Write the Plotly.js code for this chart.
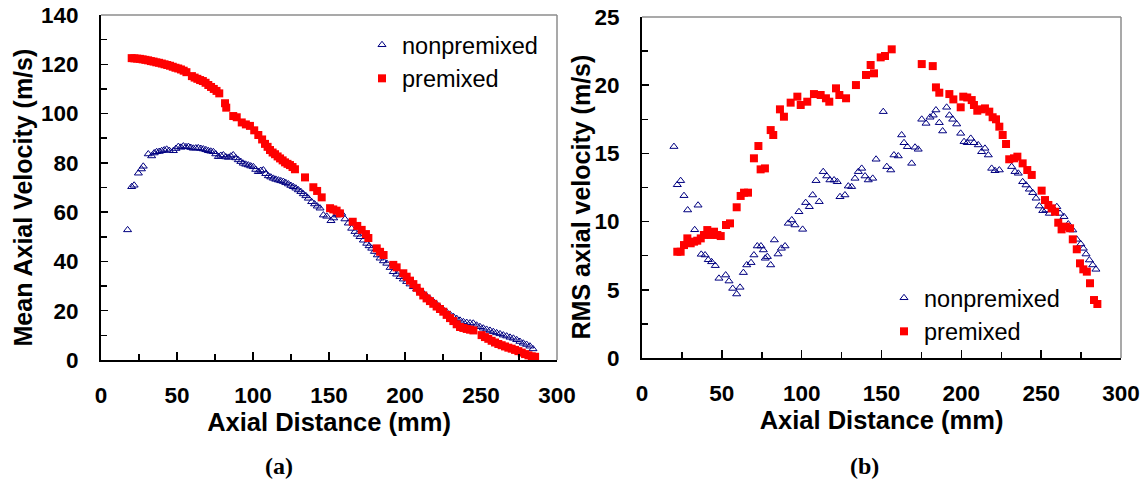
<!DOCTYPE html>
<html>
<head>
<meta charset="utf-8">
<script src="https://cdn.plot.ly/plotly-3.0.1.min.js"></script>
<style>html,body{margin:0;padding:0;background:#fff;}#chart{width:1148px;height:482px;}</style>
</head>
<body>
<div id="chart"></div>
<script>
// ---- Panel (a): mean axial velocity ----
const meanNonX = [17.5,20.2,21.8,24.6,26.6,27.8,31.1,33.3,35.0,36.6,38.3,39.9,41.6,43.2,44.9,47.6,49.3,50.9,52.6,54.2,55.9,57.5,59.1,60.7,62.4,64.0,65.7,67.3,69.0,70.6,72.2,73.9,75.5,77.2,78.8,80.5,82.1,83.8,85.4,87.0,88.7,90.3,92.0,93.6,95.2,96.9,98.5,100.2,101.8,103.5,105.1,106.8,108.4,110.1,111.7,113.4,115.0,116.7,118.3,120.0,121.6,123.3,124.9,126.5,128.2,129.8,131.5,133.1,134.8,136.4,138.6,140.5,142.3,144.1,146.3,148.5,151.3,153.1,155.0,156.6,158.3,160.5,162.7,164.9,167.1,168.7,170.4,172.6,174.8,176.4,178.1,179.9,181.8,183.6,185.8,188.0,190.2,192.3,194.5,196.7,198.9,201.1,203.3,205.5,207.7,209.9,212.0,214.2,216.4,218.6,220.8,223.0,225.2,227.4,229.6,231.8,234.0,236.2,238.4,240.6,242.8,244.9,247.1,249.3,251.5,253.7,255.9,258.1,260.3,262.5,264.7,266.9,269.1,271.3,273.5,275.6,277.8,280.0,282.2,284.2];
const meanNonY = [52.8,70.3,70.9,75.8,77.5,78.6,83.6,82.8,84.0,84.5,84.6,84.9,85.2,85.5,85.0,84.9,85.8,86.6,86.3,86.8,86.5,86.6,86.2,85.9,86.0,86.1,85.8,85.6,85.3,84.9,84.7,84.5,83.6,82.5,83.0,83.2,82.4,82.2,82.7,83.2,82.0,81.2,80.5,79.8,79.4,79.1,78.7,78.4,77.3,76.4,76.9,77.1,75.6,74.7,74.2,73.7,73.3,73.0,72.7,72.4,71.9,71.4,70.8,70.3,69.7,69.0,68.3,67.4,66.6,65.6,64.2,63.3,62.4,61.6,58.8,58.3,56.5,57.6,58.8,59.2,59.5,57.2,55.5,53.4,52.1,51.0,50.0,48.6,47.3,46.3,45.3,44.0,42.6,41.3,40.2,39.2,37.5,35.8,34.8,33.8,32.8,31.8,30.8,29.7,28.8,27.9,27.1,25.9,24.8,23.7,22.6,21.4,20.3,19.4,18.5,17.6,16.8,16.1,15.5,15.2,15.0,14.9,14.1,13.5,12.9,12.4,12.0,11.5,11.0,10.6,10.1,9.7,9.2,8.8,8.2,7.5,6.8,6.3,5.6,4.5];
const meanPreX = [20.2,22.0,23.8,25.6,27.4,29.2,31.0,32.8,34.6,36.4,38.2,40.0,41.8,43.6,45.4,47.2,49.0,50.8,52.6,54.4,56.2,59.8,61.6,63.4,65.2,67.0,68.8,70.6,72.4,74.2,76.0,77.8,81.6,82.4,87.0,89.3,92.6,95.3,98.0,100.8,103.5,106.0,107.9,109.6,111.2,112.9,114.5,116.2,117.8,119.5,121.1,122.7,124.3,126.0,127.6,134.2,139.7,142.2,145.2,150.7,152.8,155.0,157.2,165.6,168.6,171.5,174.3,175.9,181.4,183.6,185.9,192.3,194.5,198.9,201.1,203.3,205.5,207.7,209.9,212.0,214.2,216.4,218.6,220.8,223.0,225.2,227.4,229.6,231.8,234.0,236.2,238.4,240.6,242.8,245.0,250.4,252.6,254.8,257.0,259.2,261.4,263.6,265.8,268.0,270.2,272.4,274.6,276.8,279.0,281.2,283.4,285.6];
const meanPreY = [122.5,122.4,122.3,122.2,122.0,121.8,121.6,121.3,121.1,120.8,120.6,120.3,120.0,119.7,119.4,119.0,118.6,118.3,117.9,117.4,116.8,115.2,114.6,114.1,113.6,113.2,112.5,111.6,110.8,110.0,109.2,108.2,104.2,102.4,99.0,98.5,96.4,95.6,95.0,93.2,91.3,89.5,87.7,86.5,85.2,84.2,83.5,82.6,81.8,81.0,80.2,79.6,79.1,78.3,77.4,74.1,70.1,68.6,66.0,61.6,61.1,60.6,59.5,56.1,54.4,52.8,51.1,49.5,45.3,43.9,42.6,38.6,37.6,35.2,33.8,32.2,30.8,29.3,27.7,26.2,25.0,23.9,22.8,21.7,20.7,19.6,18.3,17.0,15.8,14.5,13.4,13.0,12.6,12.3,12.0,10.1,9.3,8.6,7.8,7.1,6.5,6.0,5.5,5.0,4.6,4.1,3.6,3.0,2.4,1.9,1.5,1.3];

// ---- Panel (b): RMS axial velocity ----
const rmsNonX = [20.0,22.1,24.2,26.3,28.6,33.0,35.1,37.1,39.5,41.5,43.6,45.9,48.2,52.4,54.5,56.8,59.3,61.4,63.5,65.6,68.3,70.1,72.2,74.5,76.0,77.2,78.5,80.6,82.9,85.2,87.3,89.6,91.6,93.8,95.8,98.3,100.6,102.5,104.8,106.9,109.0,111.0,113.5,115.7,117.7,120.3,122.3,124.0,127.1,129.2,131.3,133.4,135.5,137.6,139.7,141.7,144.5,146.6,151.1,153.3,155.8,157.8,160.5,162.6,164.1,166.2,168.9,171.0,173.0,175.2,177.9,180.4,182.4,184.1,186.2,188.3,190.8,192.5,194.6,197.1,199.6,201.7,203.7,205.9,207.9,210.6,212.7,214.8,216.9,219.0,221.1,223.8,231.5,233.6,235.7,238.4,240.5,242.6,244.7,246.8,248.8,251.0,253.0,255.1,257.6,259.8,261.8,264.3,267.0,269.8,272.3,274.8,276.4,278.1,280.2,282.3,284.3];
const rmsNonY = [15.5,12.7,13.0,11.9,10.85,9.4,11.2,7.6,7.55,7.2,7.05,6.77,5.84,6.08,5.64,5.1,4.69,5.18,6.26,6.82,6.99,7.55,8.21,8.21,7.92,7.31,7.43,6.82,8.65,7.62,8.04,8.21,9.87,10.12,9.75,10.72,9.43,11.39,11.09,11.95,13.0,11.46,13.66,13.34,13.05,13.05,12.92,11.82,11.95,12.6,12.56,13.17,13.66,13.9,13.34,13.05,13.17,14.57,18.06,14.03,13.78,14.88,14.81,16.35,15.78,15.49,14.27,15.45,15.3,17.5,17.2,17.65,17.8,18.18,17.25,16.64,18.38,17.8,17.5,17.15,16.47,15.86,15.78,16.1,15.78,15.62,15.12,15.37,14.88,13.9,13.73,13.78,14.03,13.66,13.54,12.92,12.68,12.37,12.12,11.71,11.14,10.8,10.85,10.6,10.97,11.09,10.6,10.36,9.82,9.38,8.7,8.36,8.04,7.62,7.18,6.82,6.5];
const rmsPreX = [22.1,24.2,26.3,28.4,30.5,32.6,34.6,36.8,38.8,40.9,43.0,45.1,47.2,49.3,52.6,55.1,59.3,61.8,63.9,66.4,70.1,72.9,74.3,77.0,80.6,82.2,86.4,88.9,93.1,97.3,99.4,103.5,107.7,111.9,115.2,117.3,121.5,123.6,127.8,134.0,140.3,143.2,145.3,149.5,152.2,156.4,175.2,182.1,184.1,186.2,192.5,195.0,199.6,201.2,203.7,206.5,207.9,210.0,212.7,214.8,217.5,219.6,221.7,223.8,225.9,228.0,230.0,233.0,235.1,238.4,241.3,244.1,250.3,252.4,254.5,256.6,258.7,260.7,262.8,265.5,268.1,269.8,272.3,274.3,276.4,278.6,280.6,283.1,285.2];
const rmsPreY = [7.79,7.79,8.28,8.77,8.41,8.53,8.6,8.77,9.02,9.38,9.02,9.26,9.02,8.94,9.75,9.87,11.05,11.88,12.12,12.12,14.64,15.54,13.83,13.9,16.71,16.35,18.23,17.69,18.72,19.16,18.55,18.79,19.35,19.28,19.04,18.79,19.77,19.28,19.04,20.01,20.75,21.48,20.87,22.04,22.14,22.63,21.55,21.4,19.84,19.45,19.35,18.96,18.38,19.16,19.1,18.91,18.55,18.13,18.23,18.3,18.06,17.65,17.5,16.96,16.35,15.69,14.57,14.64,14.76,14.27,13.78,13.42,12.27,11.58,11.22,10.97,10.72,9.92,9.43,9.63,9.51,8.7,7.97,6.94,6.5,6.33,5.48,4.25,3.96];

const seriesNames = ['nonpremixed', 'premixed'];
const xTitle = 'Axial Distance (mm)';
const yTitleA = 'Mean Axial Velocity (m/s)';
const yTitleB = 'RMS axial velocity (m/s)';
const captions = ['(a)', '(b)'];

const SANS = 'Arial, "Liberation Sans", sans-serif';
const SERIF = '"Times New Roman", "Liberation Serif", serif';
const W = 1148, H = 482;
const navy = '#000080', red = '#ff0000';

const triM = {symbol: 'triangle-up-open', size: 7, color: navy, line: {color: navy, width: 1}};
const sqM = {symbol: 'square', size: 8, color: red, line: {width: 0}};

const traces = [
  {x: meanNonX, y: meanNonY, name: seriesNames[0], type: 'scatter', mode: 'markers', marker: triM, xaxis: 'x', yaxis: 'y', legend: 'legend', cliponaxis: false},
  {x: meanPreX, y: meanPreY, name: seriesNames[1], type: 'scatter', mode: 'markers', marker: sqM, xaxis: 'x', yaxis: 'y', legend: 'legend', cliponaxis: false},
  {x: rmsNonX, y: rmsNonY, name: seriesNames[0], type: 'scatter', mode: 'markers', marker: triM, xaxis: 'x2', yaxis: 'y2', legend: 'legend2', cliponaxis: false},
  {x: rmsPreX, y: rmsPreY, name: seriesNames[1], type: 'scatter', mode: 'markers', marker: sqM, xaxis: 'x2', yaxis: 'y2', legend: 'legend2', cliponaxis: false},
  // empty traces so the label-only overlay axes exist
  {x: [], y: [], type: 'scatter', mode: 'markers', xaxis: 'x', yaxis: 'y3', showlegend: false, hoverinfo: 'skip'},
  {x: [], y: [], type: 'scatter', mode: 'markers', xaxis: 'x2', yaxis: 'y4', showlegend: false, hoverinfo: 'skip'}
];

const tickFont = {family: SANS, size: 22.5, color: '#000', weight: 'bold'};
function xAx(domain, anchor) {
  return {domain: domain, anchor: anchor, range: [0, 300], tick0: 0, dtick: 50,
    ticks: 'inside', ticklen: 8, tickwidth: 1.5, tickcolor: '#000',
    minor: {dtick: 25, ticks: 'inside', ticklen: 6, tickwidth: 1.5, tickcolor: '#000', showgrid: false},
    showline: true, linecolor: '#000', linewidth: 2, showgrid: false, zeroline: false,
    tickfont: tickFont, ticklabelstandoff: 14,
    title: {text: xTitle, font: {family: SANS, size: 25.5, color: '#000', weight: 'bold'}, standoff: 1}};
}
function yAx(domain, anchor, max, dt, mdt) {
  return {domain: domain, anchor: anchor, range: [0, max], tick0: 0, dtick: dt,
    ticks: 'inside', ticklen: 7, tickwidth: 1.5, tickcolor: '#000',
    minor: {dtick: mdt, ticks: 'inside', ticklen: 6, tickwidth: 1.5, tickcolor: '#000', showgrid: false},
    showline: true, linecolor: '#000', linewidth: 2, showgrid: false, zeroline: false,
    showticklabels: false};
}
function yLabelAx(over, anchor, max, dt) {
  return {overlaying: over, anchor: anchor, side: 'left', range: [0, max], tick0: 0, dtick: dt,
    ticks: 'outside', ticklen: 17, tickcolor: 'rgba(0,0,0,0)', showline: false, showgrid: false, zeroline: false,
    tickfont: tickFont};
}

function border(xr, yr) {
  const dx = xr + ' domain', dy = yr + ' domain';
  return [
    {type: 'line', xref: dx, yref: dy, x0: 0, x1: 1, y0: 1, y1: 1, line: {color: '#8c8c8c', width: 1.5}, layer: 'below'},
    {type: 'line', xref: dx, yref: dy, x0: 1, x1: 1, y0: 0, y1: 1, line: {color: '#8c8c8c', width: 1.5}, layer: 'below'}
  ];
}

const legendFont = {family: SANS, size: 23.5, color: '#000'};
const yTitleFont = {family: SANS, size: 25, color: '#000', weight: 'bold'};
const capFont = {family: SERIF, size: 24, color: '#000', weight: 'bold'};
const layout = {
  width: W, height: H,
  margin: {l: 0, r: 0, t: 0, b: 0},
  paper_bgcolor: '#fff', plot_bgcolor: '#fff',
  showlegend: true,
  xaxis: xAx([101 / W, 557 / W], 'y'),
  yaxis: yAx([122 / H, 467 / H], 'x', 140, 20, 10),
  yaxis3: yLabelAx('y', 'x', 140, 20),
  xaxis2: xAx([642 / W, 1121 / W], 'y2'),
  yaxis2: yAx([124 / H, 465 / H], 'x2', 25, 5, 2.5),
  yaxis4: yLabelAx('y2', 'x2', 25, 5),
  legend: {x: 362 / W, y: 1 - 23 / H, xanchor: 'left', yanchor: 'top', bgcolor: 'rgba(0,0,0,0)', font: legendFont, tracegroupgap: 0, borderwidth: 0},
  legend2: {x: 884 / W, y: 1 - 276 / H, xanchor: 'left', yanchor: 'top', bgcolor: 'rgba(0,0,0,0)', font: legendFont, tracegroupgap: 0, borderwidth: 0},
  shapes: border('x', 'y').concat(border('x2', 'y2')),
  annotations: [
    {text: yTitleA, xref: 'paper', yref: 'paper', x: 22 / W, y: 1 - 197.5 / H, textangle: -90, showarrow: false, xanchor: 'center', yanchor: 'middle', font: yTitleFont},
    {text: yTitleB, xref: 'paper', yref: 'paper', x: 580 / W, y: 1 - 197.5 / H, textangle: -90, showarrow: false, xanchor: 'center', yanchor: 'middle', font: yTitleFont},
    {text: captions[0], xref: 'paper', yref: 'paper', x: 279 / W, y: 1 - 466 / H, showarrow: false, xanchor: 'center', yanchor: 'middle', font: capFont},
    {text: captions[1], xref: 'paper', yref: 'paper', x: 864 / W, y: 1 - 466 / H, showarrow: false, xanchor: 'center', yanchor: 'middle', font: capFont}
  ]
};

Plotly.newPlot('chart', traces, layout, {staticPlot: true, displayModeBar: false});
</script>
</body>
</html>
